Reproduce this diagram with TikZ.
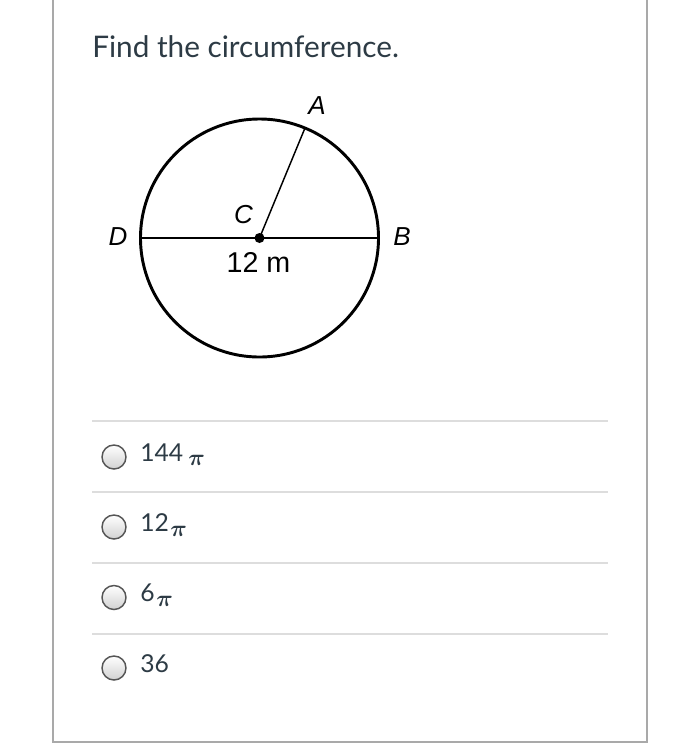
\documentclass[tikz,border=0pt]{standalone}
\usepackage{fontspec}
\newfontfamily\lato{Lato}
\newfontfamily\arialf{Liberation Sans}
\definecolor{txt}{HTML}{2D3B45}
\definecolor{frame}{HTML}{A9A9A9}
\definecolor{sep}{HTML}{DDDDDD}
\definecolor{radioedge}{HTML}{555555}
\begin{document}
\begin{tikzpicture}[x=0.75pt,y=-0.75pt,
  lbl/.style={font=\arialf\itshape\fontsize{19.5}{22}\selectfont, inner sep=0pt},
  opt/.style={font=\lato\fontsize{18.5}{20}\selectfont, text=txt, inner sep=0pt, anchor=base west},
  pisym/.style={font=\boldmath\fontsize{16}{18}\selectfont, text=txt, inner sep=0pt, anchor=base west},
  radio/.style={circle, draw=radioedge, line width=1.1pt, minimum size=18pt, inner sep=0pt,
     top color=white, bottom color=black!18},
  sepline/.style={draw=sep, line width=1.1pt},
  framel/.style={draw=frame, line width=1.5pt}]
\useasboundingbox (0,0) rectangle (700,751);
\fill[white] (0,0) rectangle (700,751);
% frame
\coordinate (f1) at (53,-2);
\coordinate (f2) at (53,742);
\coordinate (f3) at (647,742);
\coordinate (f4) at (647,-2);
\draw[framel] (f1) -- (f2) -- (f3) -- (f4);
% title
\node[font=\lato\fontsize{22.3}{25}\selectfont, text=txt, inner sep=0pt, anchor=base west] (title) at (92,57) {Find the circumference.};
% circle diagram
\coordinate (C) at (259.5,238);
\draw[line width=2.2pt] (C) circle[radius=119];
\coordinate (D) at (140.5,238);
\coordinate (B) at (378.5,238);
\coordinate (A) at (305,128);
\draw[line width=1.5pt] (D) -- (B);
\draw[line width=1.1pt] (C) -- (A);
\fill (C) circle[radius=5];
\node[lbl] (lA) at (317,106) {A};
\node[lbl] (lC) at (243.5,215) {C};
\node[lbl] (lD) at (118,237) {D};
\node[lbl] (lB) at (402,237) {B};
\node[font=\arialf\fontsize{21.5}{24}\selectfont, inner sep=0pt] (len) at (258.5,262) {12 m};
% separators
\foreach \y/\n in {421/s1,492/s2,563/s3,634/s4}{
  \coordinate (\n a) at (92,\y);
  \coordinate (\n b) at (608,\y);
  \draw[sepline] (\n a) -- (\n b);
}
% options
\node[radio] (r1) at (114,457) {};
\node[opt] (o1) at (140,461) {144};
\node[pisym] (p1) at (188,465) {$\pi$};
\node[radio] (r2) at (114,527) {};
\node[opt] (o2) at (140,531) {12};
\node[pisym] (p2) at (170,536) {$\pi$};
\node[radio] (r3) at (114,597.5) {};
\node[opt] (o3) at (140,601.5) {6};
\node[pisym] (p3) at (156,606) {$\pi$};
\node[radio] (r4) at (114,668) {};
\node[opt] (o4) at (140,672) {36};
\end{tikzpicture}
\end{document}
